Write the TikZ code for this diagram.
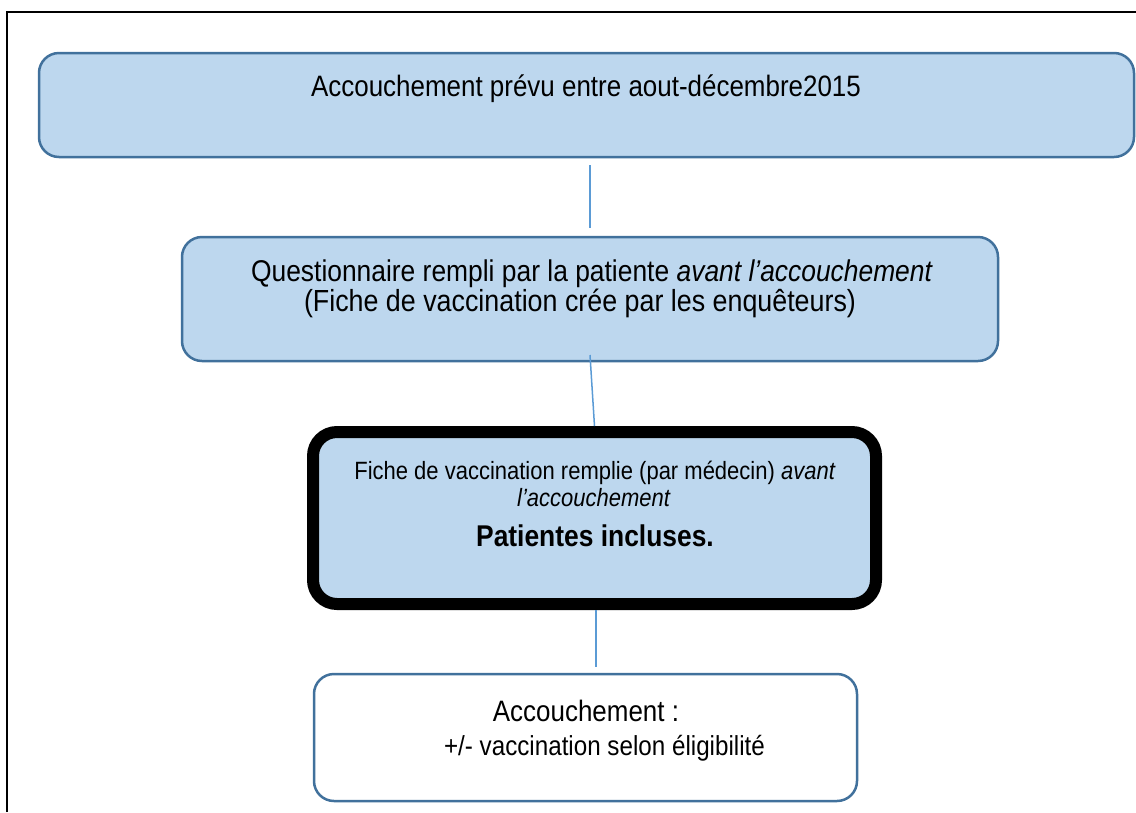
\documentclass[tikz,border=0pt]{standalone}
\usepackage{fontspec}
\setmainfont{Liberation Sans}[FakeStretch=0.88]
\begin{document}
\begin{tikzpicture}[x=1pt,y=-1pt,
  bluebox/.style={draw=boxline,fill=boxfill,line width=2.5pt,rounded corners=20pt,inner sep=0pt},
  whitebox/.style={draw=boxline,fill=white,line width=2.5pt,rounded corners=20pt,inner sep=0pt},
  keybox/.style={draw=black,fill=boxfill,line width=12pt,rounded corners=24pt,inner sep=0pt},
  link/.style={draw=linkblue,line width=1.5pt},
  big/.style={inner sep=0pt,anchor=base,font=\fontsize{29.5}{30}\selectfont},
  small/.style={inner sep=0pt,anchor=base,font=\fontsize{25}{26}\selectfont}]
\definecolor{boxfill}{HTML}{BDD7EE}
\definecolor{boxline}{HTML}{41719C}
\definecolor{linkblue}{HTML}{5B9BD5}
\useasboundingbox (0,0) rectangle (1136,812);
\draw[line width=2pt] (7,812) -- (7,12) -- (1136,12);
% boxes
\node[bluebox,minimum width=1095pt,minimum height=104pt] (b1) at (586.5,105) {};
\node[bluebox,minimum width=816pt,minimum height=124pt] (b2) at (590,299) {};
\node[keybox,minimum width=563pt,minimum height=172pt] (b3) at (594.5,518) {};
\node[whitebox,minimum width=543pt,minimum height=127pt] (b4) at (585.5,737.5) {};
% texts
\node[big] (t1) at (586,96) {Accouchement prévu entre aout-décembre2015};
\node[big,font=\fontsize{30}{30}\selectfont] (t2a) at (592,281) {Questionnaire rempli par la patiente \textit{avant l’accouchement}};
\node[big,font=\fontsize{30.5}{30}\selectfont] (t2b) at (580,311) {(Fiche de vaccination crée par les enquêteurs)};
\node[small] (t3a) at (595,479) {Fiche de vaccination remplie (par médecin) \textit{avant}};
\node[small] (t3b) at (594,506) {\textit{l’accouchement}};
\node[big,font=\fontsize{30}{30}\selectfont\bfseries] (t3c) at (595,546) {Patientes incluses.};
\node[big] (t4a) at (586,721) {Accouchement :};
\node[big,font=\fontsize{27.5}{30}\selectfont] (t4b) at (604.5,755) {+/- vaccination selon éligibilité};
% connectors
\coordinate (c1a) at (590,165);
\coordinate (c1b) at (590,228);
\coordinate (c2a) at (590,355);
\coordinate (c3b) at (596,667);
\draw[link] (c1a) -- (c1b);
\draw[link] (c2a) -- (b3.north);
\draw[link] (b3.south -| c3b) -- (c3b);
\end{tikzpicture}
\end{document}
